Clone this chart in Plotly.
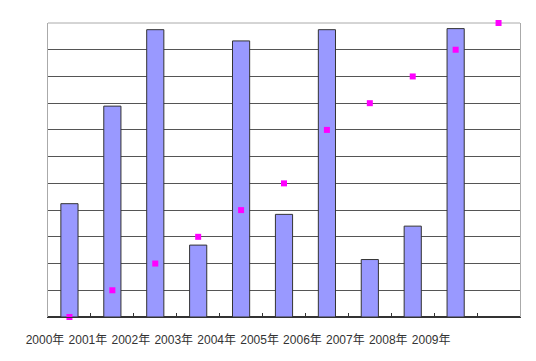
import plotly.graph_objects as go

years = ["2000年", "2001年", "2002年", "2003年", "2004年",
         "2005年", "2006年", "2007年", "2008年", "2009年"]
bar_values = [4.24, 7.89, 10.75, 2.69, 10.33, 3.84, 10.75, 2.15, 3.40, 10.79]
marker_values = [0, 1, 2, 3, 4, 5, 7, 8, 9, 10, 11]

n_slots = len(marker_values)
bar_x = [i + 0.5 for i in range(len(bar_values))]
marker_x = [i + 0.5 for i in range(len(marker_values))]
tick_pos = list(range(n_slots + 1))
tick_text = years + [""] * (len(tick_pos) - len(years))

fig = go.Figure()
fig.add_trace(go.Bar(
    x=bar_x, y=bar_values, width=0.4,
    marker=dict(color="#9999FF", line=dict(color="#333333", width=1)),
    showlegend=False,
))
fig.add_trace(go.Scatter(
    x=marker_x, y=marker_values, mode="markers", cliponaxis=False,
    marker=dict(symbol="square", size=6, color="#FF00FF"),
    showlegend=False,
))

fig.update_layout(
    width=536, height=361,
    margin=dict(l=40, r=24, t=15, b=52),
    paper_bgcolor="white", plot_bgcolor="white",
    font=dict(family="Liberation Sans, Noto Sans CJK SC, sans-serif", size=12, color="#333333"),
    shapes=[dict(type="line", xref="paper", yref="paper", x0=0, x1=1, y0=1, y1=1,
                 line=dict(color="#aaaaaa", width=1), layer="below")],
)
fig.update_xaxes(
    range=[0, n_slots], tickvals=tick_pos, ticktext=tick_text,
    ticks="inside", ticklen=4, tickcolor="#333333",
    showline=True, linecolor="#333333", linewidth=1,
    showgrid=False, zeroline=False,
    ticklabelshift=-3, ticklabelstandoff=12,
)
fig.update_yaxes(
    range=[0, 11], tickvals=list(range(0, 11)),
    showticklabels=False, ticks="",
    showgrid=True, gridcolor="#555555", gridwidth=1,
    zeroline=True, zerolinecolor="#333333",
    showline=True, mirror=True, linecolor="#aaaaaa", linewidth=1,
)

fig.write_html("out.html")
